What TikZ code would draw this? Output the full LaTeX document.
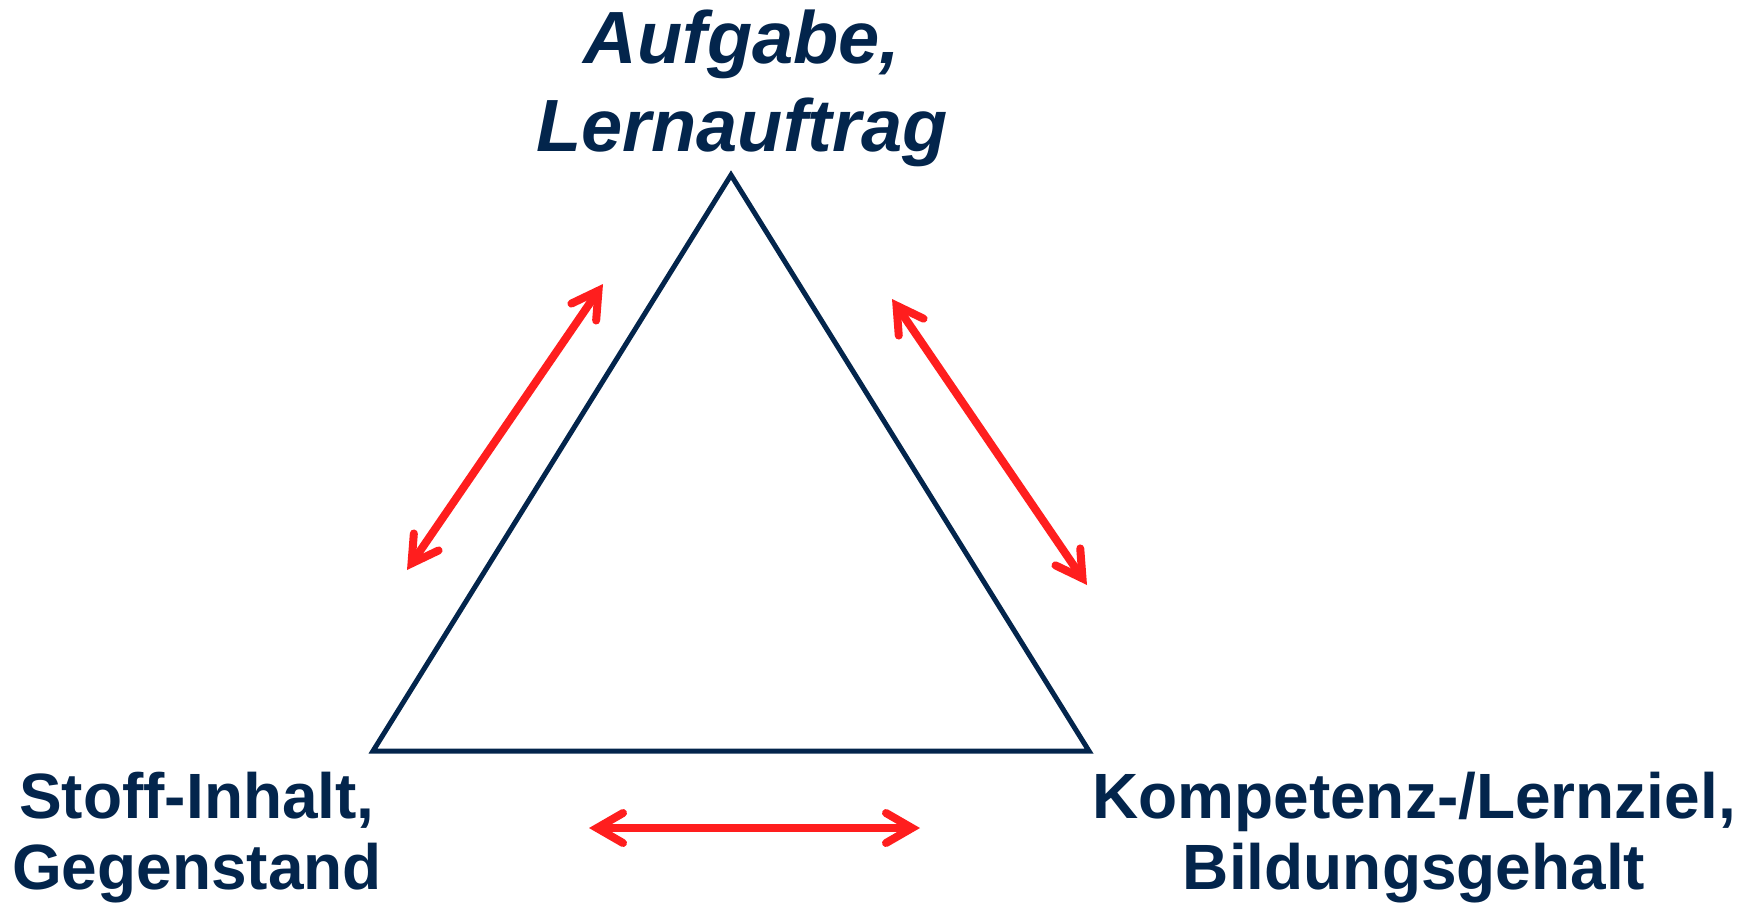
\documentclass[tikz,border=0pt]{standalone}
\usepackage{fontspec}
\setmainfont{Liberation Sans}
\usetikzlibrary{arrows.meta}
\definecolor{navy}{RGB}{3,37,76}
\definecolor{arrred}{RGB}{255,30,30}
\begin{document}
\begin{tikzpicture}[x=1pt,y=-1pt,
  tri/.style={draw=navy,line width=5pt,line join=miter},
  rel/.style={draw=arrred,line width=8pt,
    {Straight Barb[length=26pt,width=30pt,line cap=round,line join=miter]}-{Straight Barb[length=26pt,width=30pt,line cap=round,line join=miter]}},
  toplabel/.style={text=navy,font=\fontsize{74}{88}\selectfont\bfseries\itshape,align=center,inner sep=0pt,anchor=base},
  botlabel/.style={text=navy,font=\fontsize{64}{71}\selectfont\bfseries,align=center,inner sep=0pt,anchor=base}]
\useasboundingbox (0,0) rectangle (1740,906);
\coordinate (apex) at (731,175);
\coordinate (bl) at (373,751);
\coordinate (br) at (1089,751);
\draw[tri] (apex) -- (br) -- (bl) -- cycle;
\coordinate (l1) at (603,284);
\coordinate (l2) at (407,570);
\coordinate (r1) at (892,299);
\coordinate (r2) at (1087,585);
\coordinate (b1) at (589,828);
\coordinate (b2) at (920,828);
\draw[rel] (l1) -- (l2);
\draw[rel] (r1) -- (r2);
\draw[rel] (b1) -- (b2);
\node[toplabel] (task) at (742,151) {Aufgabe,\\Lernauftrag};
\node[botlabel] (content) at (197,889) {Stoff-Inhalt,\\Gegenstand};
\node[botlabel] (goal) at (1414,889) {Kompetenz-/Lernziel,\\Bildungsgehalt};
\end{tikzpicture}
\end{document}
